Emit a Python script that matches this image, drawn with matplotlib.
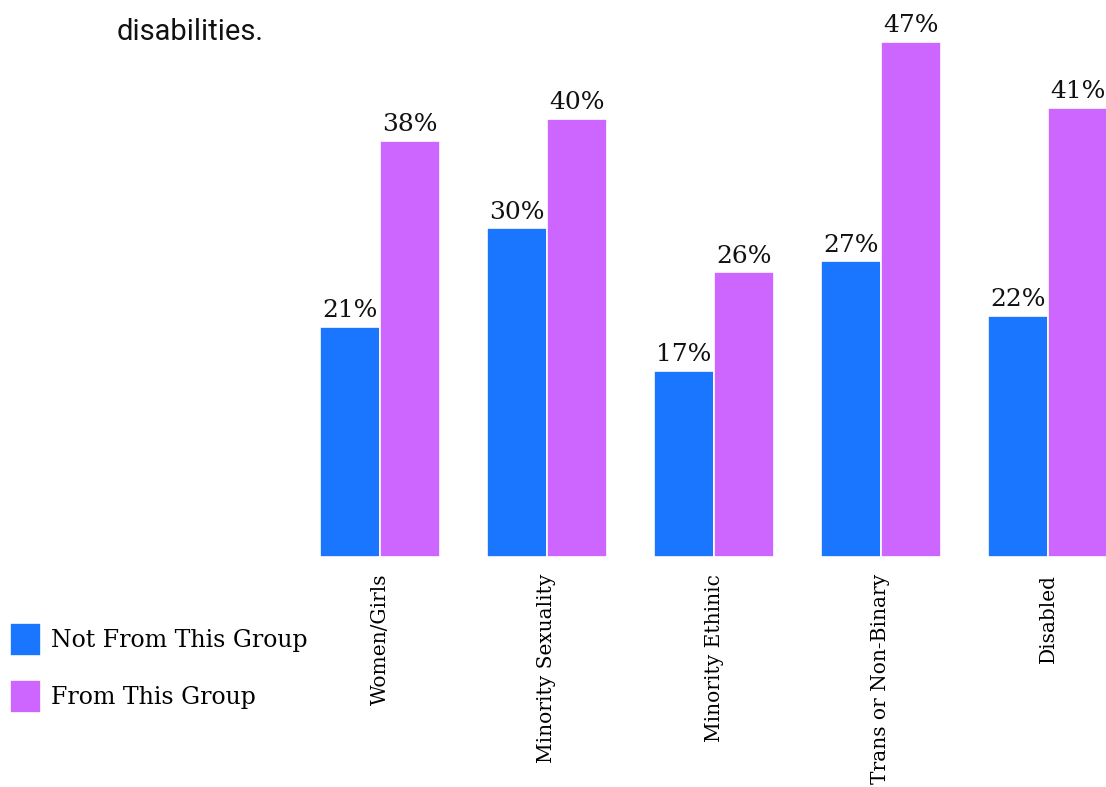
import matplotlib.pyplot as plt
import numpy as np

groups = ["Women/Girls", "Minority Sexuality", "Minority Ethinic",
          "Trans or Non-Binary", "Disabled"]
not_from_group = [21, 30, 17, 27, 22]
from_group = [38, 40, 26, 47, 41]
series_names = ["Not From This Group", "From This Group"]
colors = ["#1a75ff", "#cc66ff"]

slab = "DejaVu Serif"

fig = plt.figure(figsize=(11.06, 7.87), dpi=100)
ax = fig.add_axes([0, 230 / 787, 1, 557 / 787])

x = np.arange(len(groups))
w = 0.36
ax.bar(x - w / 2, not_from_group, w, color=colors[0], edgecolor="white",
       linewidth=1.2, label=series_names[0])
ax.bar(x + w / 2, from_group, w, color=colors[1], edgecolor="white",
       linewidth=1.2, label=series_names[1])

for xs, vals in ((x - w / 2, not_from_group), (x + w / 2, from_group)):
    for xi, v in zip(xs, vals):
        ax.text(xi, v + 0.4, f"{v}%", ha="center", va="bottom",
                fontsize=18, family=slab, color="#111111")

ax.set_xlim(-380 / 167, (1106 - 380) / 167)
ax.set_ylim(0, 557 / 10.96)
ax.set_xticks(x)
ax.set_xticklabels(groups, rotation=90, fontsize=14.5, family=slab,
                   va="top", ha="center")
ax.tick_params(axis="x", length=0, pad=12)
ax.set_yticks([])
for s in ax.spines.values():
    s.set_visible(False)

leg = ax.legend(loc="upper left", bbox_to_anchor=(10 / 1106, 1 - 623 / 787),
                bbox_transform=fig.transFigure, frameon=False,
                prop={"family": slab, "size": 17}, handlelength=1.31,
                handleheight=1.77, handletextpad=0.42, labelspacing=1.0,
                borderpad=0, borderaxespad=0)

fig.text(117 / 1106, 1 - 40 / 787, "disabilities.", family="Roboto",
         fontsize=21, va="baseline", ha="left", color="#111111")

fig.savefig("out.png", dpi=100)
